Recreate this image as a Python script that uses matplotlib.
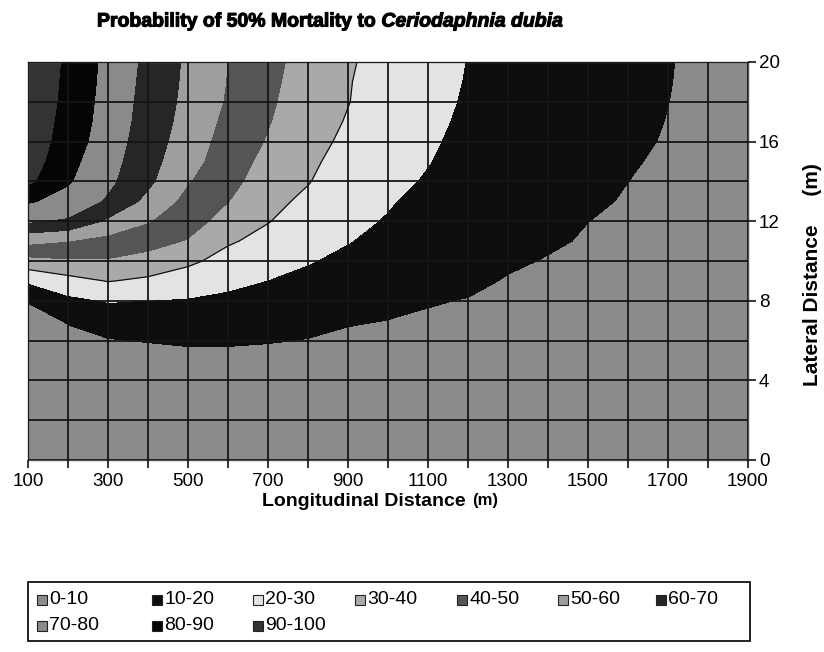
import numpy as np
import matplotlib.pyplot as plt
import matplotlib.patheffects as pe
from matplotlib.patches import Rectangle

# grid of the contour chart
x_m = list(range(100, 2000, 100))      # longitudinal distance (m)
y_m = list(range(0, 21))               # lateral distance (m)

levels = [0, 10, 20, 30, 40, 50, 60, 70, 80, 90, 100]
band_labels = ['0-10', '10-20', '20-30', '30-40', '40-50', '50-60', '60-70',
               '70-80', '80-90', '90-100']
band_colors = ['#8b8b8b', '#0d0d0d', '#e3e3e3', '#a9a9a9', '#555555',
               '#9e9e9e', '#262626', '#8a8a8a', '#050505', '#333333']

# probability (%), one list per longitudinal station, y = 0..20 m
prob_by_x = [
    [1, 1, 1, 1, 2, 2, 2, 3, 11, 21.1, 36.7, 52.5, 71, 81.1, 92, 95, 96.5, 97.5, 98.5, 99, 99.5],   # 100
    [1, 1, 2, 2, 3, 4, 5, 11.25, 17.5, 26.7, 38.75, 50.1, 68.5, 76.4, 81, 83, 85, 86, 86.8, 87.3, 87.8],  # 200
    [1, 2, 2, 3, 4, 6, 9.4, 14.9, 20.5, 30.4, 39.1, 46.4, 58.3, 68.5, 72, 73.5, 75, 76, 76.5, 77, 77.4],  # 300
    [1, 2, 3, 3, 4, 5.5, 10.5, 15.1, 19.8, 28.3, 36.4, 43.7, 50.5, 57.3, 62, 63.5, 64.5, 65.5, 66.2, 66.8, 67.4],  # 400
    [1, 2, 3, 4, 5, 7.2, 11.2, 15.2, 19.2, 25.2, 31.9, 39.3, 44.5, 46.8, 50.5, 53.5, 55.5, 56.7, 57.5, 58, 58.3],  # 500
    [1, 2, 3, 4, 5, 7.5, 11.05, 14.6, 18.1, 22, 26.6, 31.1, 35.7, 40.2, 43, 44.5, 45.7, 47.3, 48.9, 49.5, 49.8],  # 600
    [1, 2, 3, 4, 5, 7.2, 10.5, 13.6, 16.7, 19.8, 23.5, 27.1, 30.4, 32.7, 35.1, 37.3, 39.3, 40.5, 41.3, 42, 42.7],  # 700
    [1, 2, 3, 3, 4, 6, 9.7, 12.4, 15.1, 17.8, 20.5, 23, 25.5, 28, 30.5, 32, 33.3, 34.5, 35.5, 36, 36.5],  # 800
    [1, 2, 2, 3, 4, 5, 8.4, 10.7, 13.2, 15.6, 18, 20.3, 21.7, 23.2, 24.6, 26.1, 28, 29.3, 30.3, 30.5, 30.9],  # 900
    [1, 1, 2, 3, 4, 5, 7, 9.9, 11.8, 13.7, 15.6, 17.5, 19.4, 20.6, 21.5, 22.4, 23.2, 24.1, 25, 26, 26.9],  # 1000
    [1, 1, 2, 2, 3, 4, 6, 9.1, 10.5, 11.9, 13.3, 14.7, 16.2, 17.6, 19.4, 20.2, 20.8, 21.4, 22, 22.6, 23.2],  # 1100
    [1, 1, 2, 2, 3, 4, 5, 7, 9.7, 11.5, 13, 14.2, 15.2, 16, 16.8, 17.6, 18.3, 18.8, 19.2, 19.5, 19.75],  # 1200
    [1, 1, 1, 2, 3, 4, 5, 6, 8, 9.5, 11, 12.2, 13.2, 14.1, 14.9, 15.6, 16.2, 16.8, 17.2, 17.6, 17.9],  # 1300
    [1, 1, 1, 2, 2, 3, 4, 5, 7, 8.5, 9.6, 10.9, 11.9, 12.8, 13.5, 14.1, 14.6, 15, 15.4, 15.7, 16],  # 1400
    [1, 1, 1, 2, 2, 3, 4, 5, 6, 7, 8.3, 9.4, 10.05, 10.8, 11.5, 12.1, 12.6, 13, 13.4, 13.8, 14.1],  # 1500
    [1, 1, 1, 2, 2, 3, 3, 4, 5, 6, 7, 8, 8.8, 9.6, 10.02, 10.5, 11, 11.4, 11.8, 12, 12.2],  # 1600
    [1, 1, 1, 1, 2, 2, 3, 3, 4, 5, 5, 6, 7, 8, 8.6, 9.2, 9.6, 9.85, 10.05, 10.2, 10.3],  # 1700
    [1, 1, 1, 1, 2, 2, 2, 3, 3, 4, 4, 5, 5, 6, 6, 7, 7, 8, 8.4, 8.5, 8.5],  # 1800
    [1, 1, 1, 1, 1, 2, 2, 2, 3, 3, 3, 4, 4, 5, 5, 6, 6, 7, 7, 7, 7],  # 1900
]

z = np.array(prob_by_x).T

W, H = 824, 652
fig = plt.figure(figsize=(W / 100, H / 100), dpi=100)
ax = fig.add_axes([28 / W, 1 - 460 / H, 720 / W, 398 / H])

ax.contourf(x_m, y_m, z, levels=levels, colors=band_colors)
ax.contour(x_m, y_m, z, levels=[30], colors='#111111', linewidths=0.9)

ax.set_xlim(100, 1900)
ax.set_ylim(0, 20)
ax.set_xticks(range(100, 2000, 200))
ax.set_xticks(range(100, 2000, 100), minor=True)
ax.set_yticks(range(0, 21, 4))
ax.set_yticks(range(0, 21, 2), minor=True)
ax.yaxis.tick_right()
ax.set_axisbelow(False)
ax.grid(True, which='both', color='#151515', linewidth=1.3)

ax.tick_params(axis='x', which='both', length=6, width=1.2, color='#151515', pad=3)
ax.tick_params(axis='y', which='major', length=6, width=1.2, color='#151515', pad=2)
ax.tick_params(axis='y', which='minor', length=0)
for lab in ax.get_xticklabels() + ax.get_yticklabels():
    lab.set_fontfamily('Liberation Sans')
    lab.set_fontsize(13.5)

for s in ax.spines.values():
    s.set_color('#555555')
    s.set_linewidth(1.0)

# title: bold, species name in italics
heavy = [pe.withStroke(linewidth=0.8, foreground='black')]
fig.canvas.draw()
r = fig.canvas.get_renderer()
t1 = fig.text(97 / W, 1 - 22 / H, 'Probability of 50% Mortality to ', fontsize=14,
              fontweight='bold', family='Liberation Sans', ha='left', va='center',
              path_effects=heavy)
bb = t1.get_window_extent(renderer=r)
fig.text(bb.x1 / W, 1 - 22 / H, 'Ceriodaphnia dubia', fontsize=14, fontweight='bold',
         style='italic', family='Liberation Sans', ha='left', va='center',
         path_effects=heavy)

# axis labels
t2 = fig.text(262 / W, 1 - 502 / H, 'Longitudinal Distance', fontsize=14, fontweight='bold',
              family='Liberation Sans', ha='left', va='center')
bb = t2.get_window_extent(renderer=r)
fig.text(bb.x1 / W + 6 / W, 1 - 500 / H, '(m)', fontsize=12, fontweight='bold',
         family='Liberation Sans', ha='left', va='center')
fig.text(813 / W, 1 - 275 / H, 'Lateral Distance     (m)', fontsize=15, fontweight='bold',
         family='Liberation Sans', rotation=90, ha='center', va='center')

# legend box laid out like the original (two rows, fixed slots)
fig.patches.append(Rectangle((28 / W, 1 - 641 / H), 722 / W, 59 / H, transform=fig.transFigure,
                             facecolor='white', edgecolor='#111111', linewidth=1.3))
slot_x = [37, 152, 253, 355, 457, 558, 656]
row_y = [600, 626]
for i, (lab, col) in enumerate(zip(band_labels, band_colors)):
    px = slot_x[i % 7]
    py = row_y[i // 7]
    fig.patches.append(Rectangle((px / W, (H - py - 5) / H), 10 / W, 10 / H,
                                 transform=fig.transFigure, facecolor=col,
                                 edgecolor='#222222', linewidth=0.8))
    fig.text((px + 12) / W, 1 - py / H, lab, fontsize=14, family='Liberation Sans',
             ha='left', va='center')

fig.savefig('out.png', dpi=100)
